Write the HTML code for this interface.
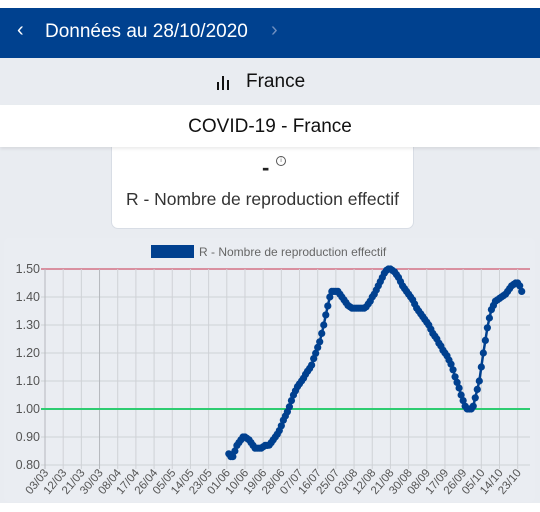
<!DOCTYPE html>
<html><head><meta charset="utf-8"><style>
body{margin:0;width:540px;height:512px;overflow:hidden;background:#fff;font-family:"Liberation Sans",sans-serif;position:relative}
.abs{position:absolute}
</style></head><body>
<div class="abs" style="left:0;top:8px;width:540px;height:50px;background:#00418f"></div>
<div class="abs" style="left:17px;top:19px;color:#fff;font-size:20px">&#8249;</div>
<div class="abs" style="left:45px;top:21px;color:#fff;font-size:19px">Données au 28/10/2020</div>
<div class="abs" style="left:271px;top:19px;color:#6f8fc0;font-size:20px">&#8250;</div>
<div class="abs" style="left:0;top:58px;width:540px;height:47px;background:#e9ecf1"></div>
<svg class="abs" style="left:217px;top:74px" width="14" height="16"><rect x="0" y="8" width="2" height="8" fill="#111"/><rect x="5" y="2" width="2" height="14" fill="#111"/><rect x="10" y="6" width="2" height="10" fill="#111"/></svg>
<div class="abs" style="left:246px;top:71px;font-size:19px;color:#111">France</div>
<div class="abs" style="left:0;top:105px;width:540px;height:42px;background:#fff;box-shadow:0 2px 3px rgba(0,0,0,0.08);z-index:2"></div>
<div class="abs" style="left:0;top:116px;width:540px;text-align:center;font-size:19px;color:#111;z-index:3">COVID-19 - France</div>
<div class="abs" style="left:0;top:147px;width:540px;height:356px;background:#e9ecf1"></div>
<div class="abs" style="left:111px;top:135px;width:301px;height:92px;background:#fff;border:1px solid #d8dde5;border-radius:7px"></div>
<div class="abs" style="left:262px;top:155px;font-size:22px;font-weight:bold;color:#222">-</div>
<div class="abs" style="left:276px;top:156px;width:8px;height:8px;border:1px solid #555;border-radius:50%;font-size:6px;line-height:8px;text-align:center;color:#555">i</div>
<div class="abs" style="left:111px;top:189px;width:303px;text-align:center;font-size:17.5px;color:#333">R - Nombre de reproduction effectif</div>
<div class="abs" style="left:4px;top:238px;width:531px;height:264px;background:#eaedf2;border-radius:5px"></div>
<svg class="abs" id="chart" style="left:0;top:0" width="540" height="512"></svg>
<script>
const yTicks=[0.80,0.90,1.00,1.10,1.20,1.30,1.40,1.50];
const xLabels=["03/03","12/03","21/03","30/03","08/04","17/04","26/04","05/05","14/05","23/05","01/06","10/06","19/06","28/06","07/07","16/07","25/07","03/08","12/08","21/08","30/08","08/09","17/09","26/09","05/10","14/10","23/10"];
const startDay=91; // 02/06, day index from 03/03
const rValues=[0.84,0.83,0.83,0.85,0.87,0.88,0.89,0.90,0.90,0.895,0.89,0.88,0.87,0.86,0.86,0.86,0.86,0.865,0.87,0.87,
0.871,0.88,0.89,0.90,0.91,0.923,0.94,0.96,0.975,0.99,
1.008,1.03,1.05,1.065,1.08,1.09,1.10,1.11,1.124,1.135,
1.145,1.157,1.18,1.199,1.22,1.24,1.27,1.30,1.336,1.368,
1.40,1.42,1.42,1.42,1.42,1.41,1.40,1.39,1.38,1.37,
1.365,1.36,1.36,1.36,1.36,1.36,1.36,1.36,1.365,1.375,
1.385,1.40,1.41,1.425,1.44,1.455,1.47,1.485,1.495,1.50,
1.50,1.495,1.49,1.48,1.47,1.455,1.44,1.43,1.42,1.41,
1.40,1.39,1.375,1.36,1.35,1.34,1.33,1.32,1.31,1.30,
1.285,1.27,1.26,1.25,1.235,1.225,1.21,1.20,1.19,1.175,
1.16,1.14,1.115,1.095,1.075,1.05,1.03,1.01,1.00,1.00,
1.00,1.01,1.04,1.07,1.10,1.15,1.20,1.245,1.29,1.325,
1.355,1.37,1.385,1.39,1.395,1.40,1.405,1.41,1.42,1.43,
1.44,1.445,1.45,1.45,1.44,1.42];
const threshold=1.00;
const ns="http://www.w3.org/2000/svg";
const svg=document.getElementById('chart');
const X0=45,PXD=2.02,XR=530,Y0=465,Y1=269,VMIN=0.8,VMAX=1.5;
const xs=d=>X0+d*PXD;
const ys=v=>Y0-(v-VMIN)/(VMAX-VMIN)*(Y0-Y1);
function mk(t,a){const e=document.createElementNS(ns,t);for(const k in a)e.setAttribute(k,a[k]);svg.appendChild(e);return e;}
yTicks.forEach(v=>{
  const l=mk('line',{x1:X0-4,x2:XR,y1:ys(v),y2:ys(v),stroke:v===VMAX?'#c8324f':'#cfd2d6','stroke-width':1});
  
  
  const t=mk('text',{x:40,y:ys(v)+4,'text-anchor':'end','font-size':12.5,fill:'#555'});
  t.textContent=v.toFixed(2);
  
  
});
xLabels.forEach((s,i)=>{
  const x=xs(i*9);
  const l=mk('line',{x1:x,x2:x,y1:Y1,y2:Y0+4,stroke:i===0||i===3?'#b5b8bd':'#cfd2d6','stroke-width':1});
  
  
  const t=mk('text',{x:x+4,y:Y0+8,'text-anchor':'end','font-size':11.5,fill:'#555',transform:`rotate(-50 ${x+4} ${Y0+8})`});
  t.textContent=s;
  
  
});
const tl=mk('line',{x1:X0-4,x2:XR,y1:ys(threshold),y2:ys(threshold),stroke:'#2ecc71','stroke-width':2});


const pts=rValues.map((v,i)=>[xs(startDay+i),ys(v)]);
const pl=mk('polyline',{points:pts.map(p=>p.join(',')).join(' '),fill:'none',stroke:'#00408f','stroke-width':2.5});


pts.forEach(p=>{
  const c=mk('circle',{cx:p[0],cy:p[1],r:3.6,fill:'#00408f'});
  
  
});
const lb=mk('rect',{x:151,y:245,width:43,height:13,fill:'#00408f'});


const lt=mk('text',{x:199,y:256,'font-size':12,fill:'#666'});
lt.textContent='R - Nombre de reproduction effectif';


</script>
</body></html>
